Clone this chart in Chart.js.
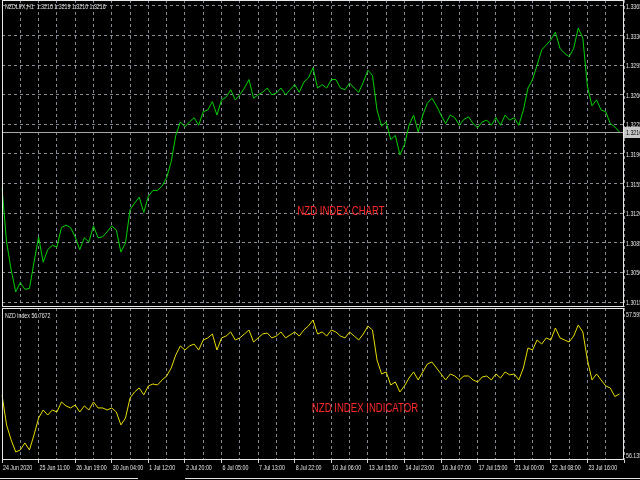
<!DOCTYPE html>
<html>
<head>
<meta charset="utf-8">
<script src="https://cdn.jsdelivr.net/npm/chart.js@4"></script>
<style>
  html, body { margin: 0; padding: 0; background: #000; }
  #wrap { position: relative; width: 640px; height: 480px; overflow: hidden; background: #000; }
  canvas { position: absolute; left: 0; }
  #price-canvas { top: 0; }
  #index-canvas { top: 307px; }
  .lbl { position: absolute; white-space: nowrap; font-family: 'Liberation Sans', sans-serif; }
  .info { font-size: 8px; color: #e6e6e6; left: 5px; transform: scaleX(0.66); transform-origin: 0 50%; }
  .tag { font-size: 12px; color: #ff2a2a; transform: translate(-50%, -50%) scaleX(0.8); }
  .tabline { position: absolute; top: 478px; height: 1px; background: #e0e0e0; }
</style>
</head>
<body>
<div id="wrap">
  <canvas id="price-canvas" width="640" height="307"></canvas>
  <canvas id="index-canvas" width="640" height="173"></canvas>
  <div class="lbl info" style="top:2px">NZDLFX,H1&nbsp; 1.3216 1.3219 1.3210 1.3216</div>
  <div class="lbl info" style="top:311px">NZD index 56.7672</div>
  <div class="lbl tag" style="left:341px; top:211px">NZD INDEX CHART</div>
  <div class="lbl tag" style="left:365px; top:408px">NZD INDEX INDICATOR</div>
  <div class="tabline" style="left:0; width:138px"></div>
  <div class="tabline" style="left:185px; width:455px"></div>
</div>
<script>
// one point every 4 hourly bars
const barCount = 137;
const tickLabels = ['24 Jun 2020', '25 Jun 11:00', '26 Jun 19:00', '30 Jun 04:00', '1 Jul 12:00',
  '2 Jul 20:00', '6 Jul 05:00', '7 Jul 13:00', '8 Jul 22:00', '10 Jul 06:00', '13 Jul 15:00',
  '14 Jul 23:00', '16 Jul 07:00', '17 Jul 15:00', '21 Jul 00:00', '22 Jul 08:00', '23 Jul 16:00'];
const priceTicks = [1.3015, 1.3050, 1.3085, 1.3120, 1.3155, 1.3190, 1.3225, 1.3260, 1.3295, 1.3330, 1.3365];
const indexTicks = [56.135, 57.595];
const lastPrice = 1.3216;

const nzdPrice = [
  1.3150, 1.3086, 1.3053, 1.3027, 1.3038, 1.3030, 1.3031, 1.3062, 1.3092, 1.3062,
  1.3077, 1.3082, 1.3080, 1.3103, 1.3106, 1.3103, 1.3092, 1.3077, 1.3091, 1.3086,
  1.3105, 1.3091, 1.3092, 1.3098, 1.3105, 1.3100, 1.3074, 1.3085, 1.3124, 1.3132,
  1.3139, 1.3121, 1.3140, 1.3147, 1.3147, 1.3152, 1.3162, 1.3181, 1.3212, 1.3228,
  1.3222, 1.3228, 1.3233, 1.3224, 1.3240, 1.3242, 1.3252, 1.3236, 1.3254, 1.3257,
  1.3266, 1.3254, 1.3260, 1.3268, 1.3278, 1.3256, 1.3260, 1.3263, 1.3268, 1.3260,
  1.3262, 1.3268, 1.3260, 1.3266, 1.3272, 1.3263, 1.3275, 1.3280, 1.3292, 1.3268,
  1.3272, 1.3268, 1.3278, 1.3278, 1.3268, 1.3266, 1.3274, 1.3268, 1.3263, 1.3275,
  1.3289, 1.3283, 1.3242, 1.3223, 1.3228, 1.3207, 1.3212, 1.3189, 1.3201, 1.3224,
  1.3236, 1.3216, 1.3236, 1.3250, 1.3256, 1.3247, 1.3236, 1.3226, 1.3236, 1.3233,
  1.3224, 1.3231, 1.3234, 1.3226, 1.3221, 1.3228, 1.3230, 1.3224, 1.3233, 1.3224,
  1.3236, 1.3230, 1.3233, 1.3224, 1.3242, 1.3268, 1.3278, 1.3295, 1.3313, 1.3319,
  1.3325, 1.3334, 1.3315, 1.3309, 1.3305, 1.3315, 1.3339, 1.3327, 1.3270, 1.3247,
  1.3254, 1.3242, 1.3240, 1.3226, 1.3222, 1.3216
];

const nzdIndex = [
  56.757, 56.446, 56.291, 56.166, 56.187, 56.260, 56.187, 56.342, 56.518, 56.601,
  56.549, 56.601, 56.580, 56.684, 56.643, 56.622, 56.653, 56.580, 56.643, 56.601,
  56.684, 56.622, 56.622, 56.601, 56.622, 56.580, 56.446, 56.518, 56.725, 56.788,
  56.829, 56.757, 56.850, 56.870, 56.860, 56.912, 56.953, 57.036, 57.171, 57.264,
  57.222, 57.264, 57.284, 57.222, 57.326, 57.347, 57.388, 57.222, 57.347, 57.367,
  57.409, 57.326, 57.347, 57.388, 57.429, 57.305, 57.347, 57.388, 57.398, 57.347,
  57.367, 57.409, 57.347, 57.378, 57.409, 57.367, 57.429, 57.471, 57.533, 57.388,
  57.409, 57.367, 57.429, 57.409, 57.367, 57.347, 57.409, 57.367, 57.326, 57.388,
  57.471, 57.429, 57.119, 56.974, 56.995, 56.860, 56.891, 56.788, 56.850, 56.932,
  56.995, 56.912, 56.995, 57.077, 57.098, 57.036, 56.974, 56.912, 56.974, 56.953,
  56.912, 56.953, 56.953, 56.912, 56.891, 56.943, 56.953, 56.912, 56.974, 56.932,
  56.995, 56.964, 56.974, 56.912, 57.036, 57.243, 57.222, 57.326, 57.284, 57.347,
  57.326, 57.450, 57.347, 57.326, 57.305, 57.367, 57.481, 57.409, 57.119, 56.912,
  56.974, 56.912, 56.850, 56.829, 56.740, 56.767
];

const labels = Array.from({ length: barCount }, (_, i) => (i % 8 === 0 && tickLabels[i / 8]) || '');

const GRID = 'rgba(165, 172, 185, 0.8)';
const FONT = '"Liberation Sans", sans-serif';
const SQUISH = 0.66; // terminal font is very condensed

function squishText(ctx, text, x, y, align) {
  ctx.save();
  ctx.translate(x, y);
  ctx.scale(SQUISH, 1);
  ctx.textAlign = align;
  ctx.fillText(text, 0, 0);
  ctx.restore();
}

// axis labels, drawn narrow at the positions the scales give
const axisLabelPlugin = {
  id: 'axisLabels',
  afterDraw(chart, args, opts) {
    const { ctx, chartArea, scales } = chart;
    ctx.save();
    ctx.font = '8px ' + FONT;
    ctx.fillStyle = '#e6e6e6';
    ctx.textBaseline = 'middle';
    scales.y.ticks.forEach(t => {
      squishText(ctx, Number(t.value).toFixed(opts.digits), chartArea.right + 2,
        Math.round(scales.y.getPixelForValue(t.value)) + 0.5, 'left');
    });
    if (opts.dates) {
      tickLabels.forEach((lab, k) => {
        squishText(ctx, lab, scales.x.getPixelForValue(k * 8) + 1, chartArea.bottom + 8, 'left');
      });
    }
    ctx.restore();
  }
};

const framePlugin = {
  id: 'frame',
  afterDraw(chart) {
    const { ctx, chartArea: a } = chart;
    ctx.save();
    ctx.strokeStyle = '#e8e8e8';
    ctx.lineWidth = 1;
    ctx.strokeRect(Math.round(a.left) + 0.5, Math.round(a.top) + 0.5,
      Math.round(a.right - a.left) - 1, Math.round(a.bottom - a.top) - 1);
    ctx.restore();
  }
};

const lastPricePlugin = {
  id: 'lastPrice',
  beforeDatasetsDraw(chart) {
    const { ctx, chartArea, scales } = chart;
    const y = Math.round(scales.y.getPixelForValue(lastPrice)) + 0.5;
    ctx.save();
    ctx.strokeStyle = '#a8a8a8';
    ctx.lineWidth = 1;
    ctx.beginPath();
    ctx.moveTo(chartArea.left, y);
    ctx.lineTo(chartArea.right, y);
    ctx.stroke();
    ctx.restore();
  },
  afterDraw(chart) {
    const { ctx, chartArea, scales } = chart;
    const y = Math.round(scales.y.getPixelForValue(lastPrice));
    ctx.save();
    ctx.fillStyle = '#c8c8c8';
    ctx.fillRect(chartArea.right, y - 5, chart.width - chartArea.right, 11);
    ctx.fillStyle = '#000';
    ctx.font = '8px ' + FONT;
    ctx.textBaseline = 'middle';
    squishText(ctx, lastPrice.toFixed(4), chartArea.right + 2, y + 0.5, 'left');
    ctx.restore();
  }
};

function xAxis(showTicks) {
  return {
    type: 'category',
    offset: false,
    grid: {
      color: ctx => ctx.index % 4 === 0 ? GRID : 'rgba(0,0,0,0)',
      lineWidth: 1,
      drawTicks: showTicks,
      tickLength: 3,
      tickColor: ctx => ctx.index % 8 === 0 ? '#d0d0d0' : 'rgba(0,0,0,0)',
      tickBorderDash: [1, 0]
    },
    border: { display: false, dash: [3, 3] },
    ticks: { display: false, autoSkip: false, maxRotation: 0 },
    afterFit(scale) { scale.height = showTicks ? 20 : 0; }
  };
}

function yAxis(min, max, values, showGrid) {
  return {
    position: 'right',
    min: min,
    max: max,
    afterBuildTicks(scale) { scale.ticks = values.map(v => ({ value: v })); },
    afterFit(scale) { scale.width = 16; },
    grid: { display: showGrid, color: GRID, drawTicks: false },
    border: { display: false, dash: [3, 3] },
    ticks: { display: false }
  };
}

const common = {
  responsive: false,
  animation: false,
  events: [],
  elements: { point: { radius: 0 }, line: { borderWidth: 1, tension: 0 } }
};

new Chart(document.getElementById('price-canvas'), {
  type: 'line',
  data: {
    labels: labels,
    datasets: [{ label: 'NZDLFX,H1', data: nzdPrice, borderColor: '#00d200' }]
  },
  options: Object.assign({}, common, {
    layout: { padding: { left: 2, top: 0, right: 0, bottom: 0 } },
    plugins: {
      legend: { display: false }, tooltip: { enabled: false },
      axisLabels: { digits: 4, dates: false }
    },
    scales: {
      x: xAxis(false),
      y: yAxis(1.300909, 1.337209, priceTicks, true)
    }
  }),
  plugins: [axisLabelPlugin, lastPricePlugin, framePlugin]
});

new Chart(document.getElementById('index-canvas'), {
  type: 'line',
  data: {
    labels: labels,
    datasets: [{ label: 'NZD index', data: nzdIndex, borderColor: '#e6dc00' }]
  },
  options: Object.assign({}, common, {
    layout: { padding: { left: 2, top: 1, right: 0, bottom: 0 } },
    plugins: {
      legend: { display: false }, tooltip: { enabled: false },
      axisLabels: { digits: 3, dates: true }
    },
    scales: {
      x: xAxis(true),
      y: yAxis(56.0832, 57.6571, indexTicks, false)
    }
  }),
  plugins: [axisLabelPlugin, framePlugin]
});
</script>
</body>
</html>
